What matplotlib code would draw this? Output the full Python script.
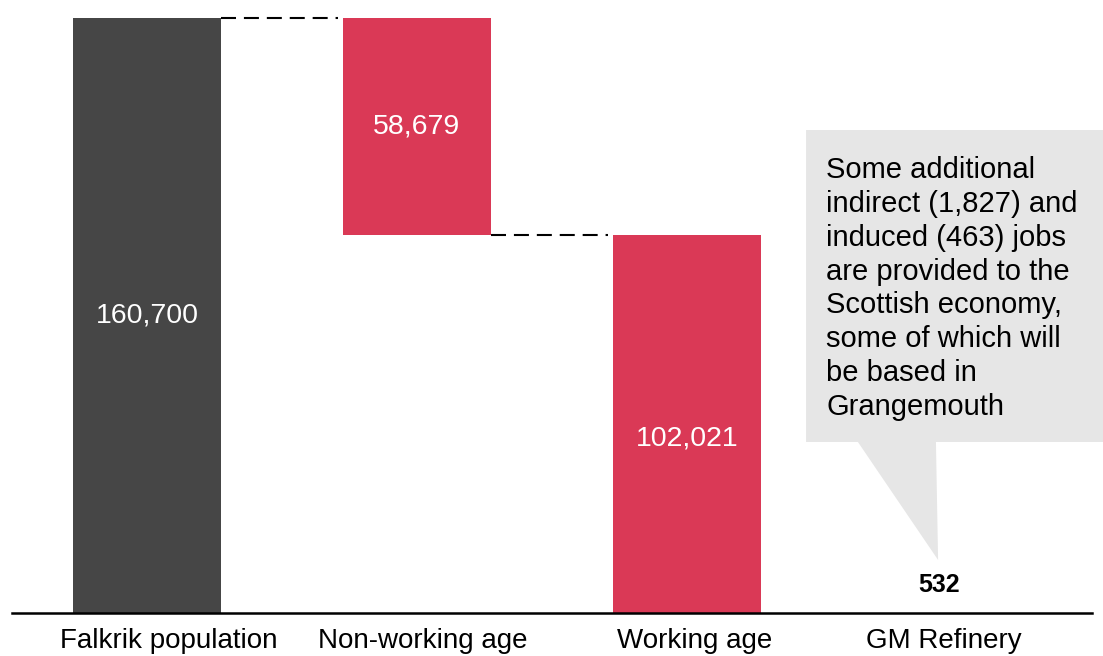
import matplotlib.pyplot as plt
from matplotlib.patches import Polygon
import numpy as np

plt.rcParams['font.family'] = ['Liberation Sans', 'DejaVu Sans']

categories = ['Falkrik population', 'Non-working age', 'Working age', 'GM Refinery']
values = [160700, 58679, 102021, 532]
bottoms = [0, 102021, 0, 0]
labels = ['160,700', '58,679', '102,021', '532']
note = ("Some additional\nindirect (1,827) and\ninduced (463) jobs\n"
        "are provided to the\nScottish economy,\nsome of which will\n"
        "be based in\nGrangemouth")

grey = '#464646'
red = '#DA3956'
# the 532 bar is too thin to show in the original
colors = [grey, red, red, 'white']

fig = plt.figure(figsize=(11.03, 6.56), dpi=100)
ax = fig.add_axes([12 / 1103, 43 / 656, 1080 / 1103, 613 / 656])

x = np.arange(len(categories))
w = 0.548
ax.bar(x, values, width=w, bottom=bottoms, color=colors, zorder=2)

# connectors
dash = dict(color='black', lw=1.5, dashes=(7.2, 3.8), zorder=1)
ax.plot([x[0] + w / 2, x[1] - w / 2 - 0.02], [values[0]] * 2, **dash)
ax.plot([x[1] + w / 2, x[2] - w / 2 - 0.02], [bottoms[1]] * 2, **dash)

# value labels
ax.text(x[0], values[0] * 0.5, labels[0], color='white', fontsize=20.5,
        ha='center', va='center')
ax.text(x[1], bottoms[1] + values[1] / 2, labels[1], color='white', fontsize=20.5,
        ha='center', va='center')
ax.text(x[2], values[2] * 0.5 - 4000, labels[2], color='white', fontsize=20.5,
        ha='center', va='center')
ax.text(x[3] - 0.067, 7600, labels[3], color='black', fontsize=18,
        fontweight='bold', ha='center', va='center')

# callout bubble
bubble = Polygon([(2.441, 130450), (3.6, 130450), (3.6, 46185), (2.922, 46185),
                  (2.930, 14314), (2.633, 46185), (2.441, 46185)],
                 closed=True, facecolor='#E6E6E6', edgecolor='none',
                 clip_on=False, zorder=1)
ax.add_patch(bubble)
ax.text(2.515, 123300, note, fontsize=21, ha='left', va='top',
        linespacing=1.26, color='black', zorder=3)

ax.set_xlim(-0.5, 3.5)
ax.set_ylim(0, 160700 * 613 / 595)
ax.set_xticks(x + np.array([0.08, 0.02, 0.03, -0.05]))
ax.set_xticklabels(categories, fontsize=20)
ax.tick_params(axis='x', length=0, pad=10.5)
ax.set_yticks([])
for s in ['top', 'left', 'right']:
    ax.spines[s].set_visible(False)
ax.spines['bottom'].set_linewidth(1.8)
ax.spines['bottom'].set_zorder(4)

fig.savefig('out.png', dpi=100)
